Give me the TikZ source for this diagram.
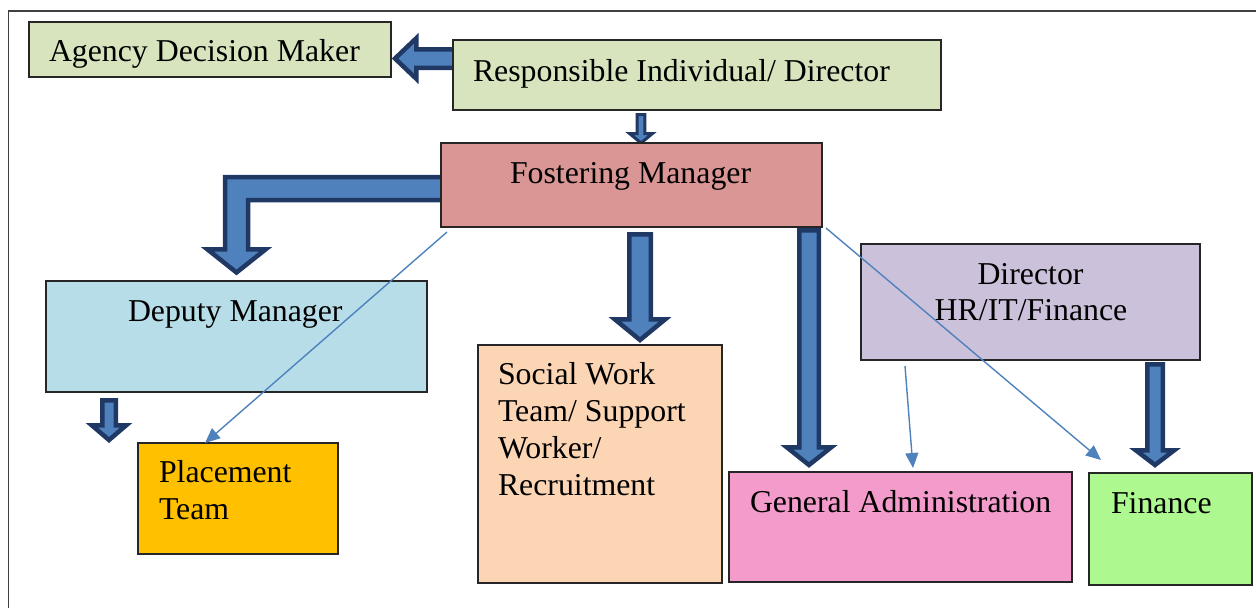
\documentclass[tikz,border=0pt]{standalone}
\usepackage{fontspec}
\setmainfont{Liberation Serif}
\usetikzlibrary{calc,arrows.meta,backgrounds}
\definecolor{cgreen}{HTML}{D7E4BD}
\definecolor{cred}{HTML}{D99694}
\definecolor{cblue}{HTML}{B7DEE8}
\definecolor{corange}{HTML}{FCD5B5}
\definecolor{cpink}{HTML}{F39BCB}
\definecolor{clime}{HTML}{AEF98F}
\definecolor{cviolet}{HTML}{CCC1DA}
\definecolor{cyellow}{HTML}{FFC000}
\definecolor{barfill}{HTML}{4F81BD}
\definecolor{barline}{HTML}{203864}
\definecolor{linkcol}{HTML}{4F81BD}
% #1 extra style, #2 start, #3 tip, #4 half shaft, #5 half head, #6 head length
\newcommand\blockdown[6][]{\draw[blockarrow,#1] let \p1=(#2), \p2=(#3) in
  (\x1-#4pt,\y1) -- (\x1+#4pt,\y1) -- (\x1+#4pt,\y2+#6pt) -- (\x1+#5pt,\y2+#6pt)
  -- (\x1,\y2) -- (\x1-#5pt,\y2+#6pt) -- (\x1-#4pt,\y2+#6pt) -- cycle;}
\newcommand\blockleft[6][]{\draw[blockarrow,#1] let \p1=(#2), \p2=(#3) in
  (\x1,\y1+#4pt) -- (\x2+#6pt,\y1+#4pt) -- (\x2+#6pt,\y1+#5pt) -- (\x2,\y1)
  -- (\x2+#6pt,\y1-#5pt) -- (\x2+#6pt,\y1-#4pt) -- (\x1,\y1-#4pt) -- cycle;}
\begin{document}
\begin{tikzpicture}[x=1pt,y=-1pt,
  box/.style={draw=black!85, line width=1.3pt, rectangle, inner sep=0pt, outer sep=0pt, anchor=north west},
  txt/.style={inner sep=0pt, outer sep=0pt, font=\fontsize{31.8pt}{37pt}\selectfont},
  blockarrow/.style={fill=barfill, draw=barline, line width=4.5pt, line join=miter, miter limit=10},
  linkarrow/.style={draw=linkcol, line width=1.4pt, -{Triangle[length=15pt,width=13pt]}}]
\useasboundingbox (0,0) rectangle (1256,608);

% boxes
\node[box, fill=cgreen, minimum width=362pt, minimum height=55pt] (adm) at (29,22) {};
\node[box, fill=cgreen, minimum width=488pt, minimum height=70pt] (resp) at (453,40) {};
\node[box, fill=cred, minimum width=381pt, minimum height=84pt] (fm) at (441,143) {};
\node[box, fill=cblue, minimum width=381pt, minimum height=111pt] (dm) at (46,281) {};
\node[box, fill=corange, minimum width=244pt, minimum height=238pt] (sw) at (478,345) {};
\node[box, fill=cpink, minimum width=343pt, minimum height=110pt] (ga) at (729,472) {};
\node[box, fill=clime, minimum width=163pt, minimum height=112pt] (fin) at (1089,473) {};
\node[box, fill=cviolet, minimum width=339pt, minimum height=116pt] (dir) at (861,244) {};
\node[box, fill=cyellow, minimum width=200pt, minimum height=111pt] (pt) at (138,443) {};

% texts
\node[txt, anchor=base west] (adm-t) at ($(adm.north west)+(20,39)$) {Agency Decision Maker};
\node[txt, anchor=base west] (resp-t) at ($(resp.north west)+(20,41)$) {Responsible Individual/ Director};
\node[txt, anchor=base west] (fm-t) at ($(fm.north west)+(69,40)$) {Fostering Manager};
\node[txt, anchor=base west] (dm-t) at ($(dm.north west)+(82,40)$) {Deputy Manager};
\node[txt, anchor=base west] (sw-t1) at ($(sw.north west)+(20,39)$) {Social Work};
\node[txt, anchor=base west] (sw-t2) at ($(sw.north west)+(20,76)$) {Team/ Support};
\node[txt, anchor=base west] (sw-t3) at ($(sw.north west)+(20,113)$) {Worker/};
\node[txt, anchor=base west] (sw-t4) at ($(sw.north west)+(20,150)$) {Recruitment};
\node[txt, anchor=base west] (ga-t) at ($(ga.north west)+(21,40)$) {General Administration};
\node[txt, anchor=base west] (fin-t) at ($(fin.north west)+(22,40)$) {Finance};
\node[txt, anchor=base] (dir-t1) at ($(dir.north)+(0,40)$) {Director};
\node[txt, anchor=base] (dir-t2) at ($(dir.north)+(0.5,76)$) {HR/IT/Finance};
\node[txt, anchor=base west] (pt-t1) at ($(pt.north west)+(21,39)$) {Placement};
\node[txt, anchor=base west] (pt-t2) at ($(pt.north west)+(21,76)$) {Team};

% frame and block arrows behind the boxes
\begin{scope}[on background layer]
\draw[black!75, line width=1.5pt] (8.5,608) -- (8.5,11) -- (1256,11);
\coordinate (a-s) at ([xshift=3pt,yshift=16.5pt]resp.west);
\coordinate (a-t) at ($(a-s -| adm.east)+(4,0)$);
\blockleft{a-s}{a-t}{9.25}{20.25}{21.25}
\coordinate (b-s) at ([xshift=-56pt,yshift=-4.5pt]resp.south);
\coordinate (b-t) at (b-s |- fm.north);
\blockdown[line width=3pt]{b-s}{b-t}{3.9}{11.5}{9.5}
\coordinate (c-s) at ([xshift=3pt,yshift=-3.5pt]fm.west);
\coordinate (c-t) at ([yshift=8.5pt]dm.north);
\draw[blockarrow] let \p1=(c-s), \p2=(c-t) in
  (\x1,\y1+11.5pt) -- (\x2-11.5pt,\y1+11.5pt) -- (\x2-11.5pt,\y2+23.25pt) -- (\x2-29.25pt,\y2+23.25pt)
  -- (\x2,\y2) -- (\x2+29.25pt,\y2+23.25pt) -- (\x2+11.5pt,\y2+23.25pt) -- (\x2+11.5pt,\y1-11.5pt)
  -- (\x1,\y1-11.5pt) -- cycle;
\coordinate (d-s) at ([xshift=8.5pt,yshift=-7.25pt]fm.south);
\coordinate (d-t) at ($(d-s |- sw.north)+(0,-5)$);
\blockdown{d-s}{d-t}{10.75}{25.25}{20.75}
\coordinate (e-s) at ([xshift=177.5pt,yshift=-3.25pt]fm.south);
\coordinate (e-t) at ($(e-s |- ga.north)+(0,-7)$);
\blockdown{e-s}{e-t}{9.75}{22.25}{17.75}
\coordinate (f-s) at ([xshift=124.5pt,yshift=-4.25pt]dir.south);
\coordinate (f-t) at ($(f-s |- fin.north)+(0,-8)$);
\blockdown{f-s}{f-t}{7.75}{19.25}{14.75}
\coordinate (g-s) at ([xshift=-127.5pt,yshift=-8.25pt]dm.south);
\coordinate (g-t) at ($(g-s |- pt.north)+(0,-3)$);
\blockdown{g-s}{g-t}{6.75}{17.25}{14.75}
\end{scope}

% thin connectors
\draw[linkarrow] ([xshift=6pt,yshift=-5pt]fm.south west) -- ([xshift=67pt]pt.north west);
\draw[linkarrow] ([xshift=4pt,yshift=-1pt]fm.south east) -- ($(fin.north west)+(12,-13)$);
\draw[linkarrow] ([xshift=44pt,yshift=-6pt]dir.south west) -- ([xshift=184pt,yshift=4pt]ga.north west);
\end{tikzpicture}
\end{document}
